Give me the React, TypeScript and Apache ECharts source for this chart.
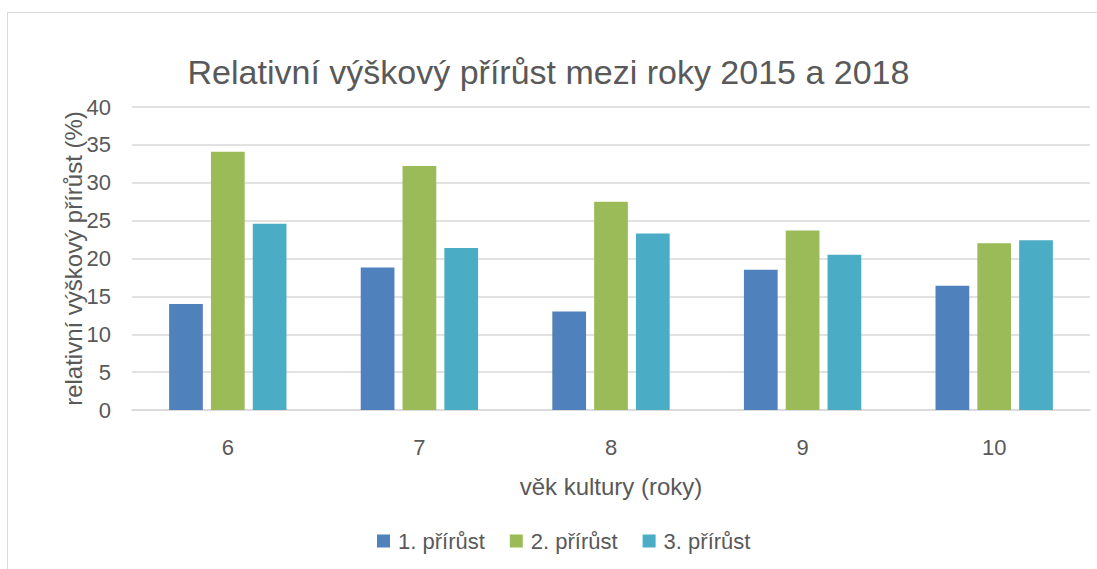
import React, { useEffect, useRef } from "react";
import * as echarts from "echarts";

const categories = ["6", "7", "8", "9", "10"];
const series1 = [14.0, 18.8, 13.0, 18.5, 16.4];
const series2 = [34.1, 32.2, 27.5, 23.7, 22.0];
const series3 = [24.6, 21.4, 23.3, 20.5, 22.4];
const seriesNames = ["1. přírůst", "2. přírůst", "3. přírůst"];
const colors = ["#4F81BD", "#9BBB59", "#4BACC6"];
const titleText = "Relativní výškový přírůst mezi roky 2015 a 2018";
const xName = "věk kultury (roky)";
const yName = "relativní výškový přírůst (%)";

const FONT = "Liberation Sans";
const TXT = "#595959";

export default function App() {
  const ref = useRef<HTMLDivElement>(null);
  useEffect(() => {
    if (!ref.current) return;
    const chart = echarts.init(ref.current, null, { renderer: "svg" });
    const data = [series1, series2, series3];
    chart.setOption({
      animation: false,
      backgroundColor: "#ffffff",
      textStyle: { fontFamily: FONT },
      graphic: [
        {
          type: "rect",
          shape: { x: 7.5, y: 12.5, width: 1200, height: 700 },
          style: { fill: "none", stroke: "#d9d9d9", lineWidth: 1 },
          silent: true,
        },
      ],
      title: {
        text: titleText,
        left: "center",
        top: 50,
        textStyle: { fontFamily: FONT, fontSize: 34, fontWeight: "normal", color: TXT },
      },
      legend: {
        bottom: 12,
        left: 372,
        itemWidth: 13,
        itemHeight: 13,
        itemGap: 25,
        icon: "rect",
        textStyle: { fontFamily: FONT, fontSize: 22, color: TXT, padding: [0, 0, 0, 3] },
        data: seriesNames,
      },
      grid: { left: 132, right: 7, top: 107, bottom: 159 },
      xAxis: {
        type: "category",
        data: categories,
        name: xName,
        nameLocation: "middle",
        nameGap: 64,
        nameMoveOverlap: false,
        nameTextStyle: { fontFamily: FONT, fontSize: 24, color: TXT },
        axisLine: { show: true, lineStyle: { color: "#d9d9d9", width: 1.5 } },
        axisTick: { show: false },
        axisLabel: { fontFamily: FONT, fontSize: 22, color: TXT, margin: 26 },
      },
      yAxis: {
        type: "value",
        min: 0,
        max: 40,
        interval: 5,
        name: yName,
        nameLocation: "middle",
        nameGap: 47,
        nameMoveOverlap: false,
        nameTextStyle: { fontFamily: FONT, fontSize: 24, color: TXT },
        axisLine: { show: false },
        axisTick: { show: false },
        axisLabel: { fontFamily: FONT, fontSize: 22, color: TXT, margin: 21 },
        splitLine: { lineStyle: { color: "#d9d9d9", width: 1.5 } },
      },
      series: seriesNames.map((name, i) => ({
        name,
        type: "bar",
        data: data[i],
        barWidth: "17.6%",
        barGap: "24%",
        itemStyle: { color: colors[i] },
      })),
    });
    return () => chart.dispose();
  }, []);
  return (
    <div
      ref={ref}
      style={{ position: "fixed", left: 0, top: 0, width: 1097, height: 569 }}
    />
  );
}
